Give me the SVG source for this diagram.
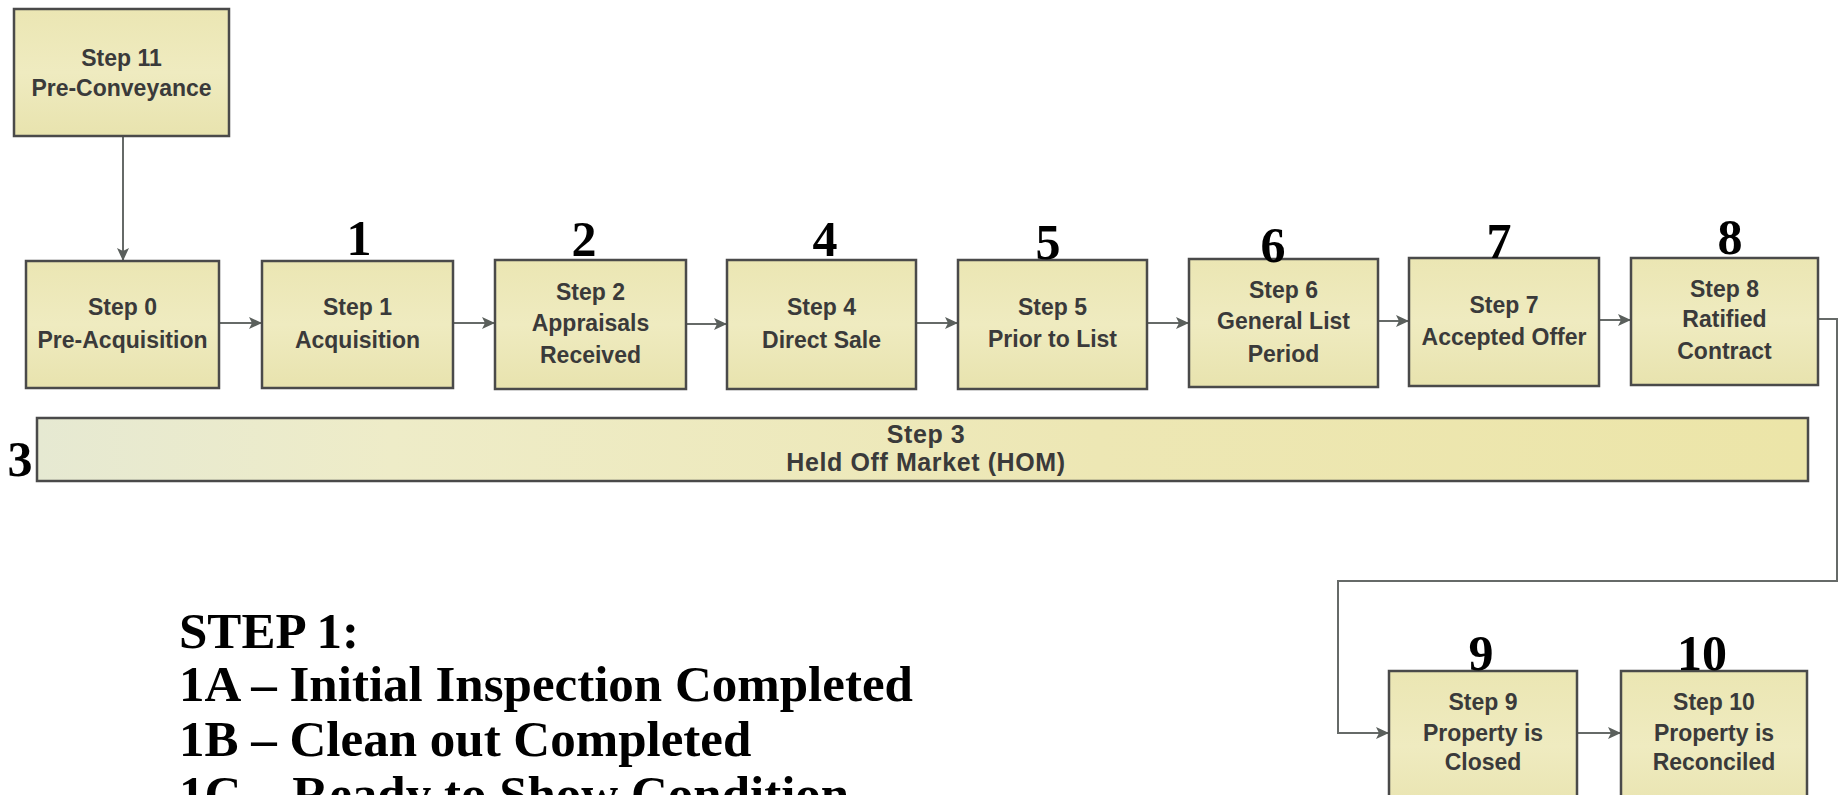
<svg xmlns="http://www.w3.org/2000/svg" width="1839" height="795" viewBox="0 0 1839 795">
<defs>
<linearGradient id="boxFill" x1="0" y1="0" x2="0" y2="1">
<stop offset="0" stop-color="#ebe6b3"/>
<stop offset="0.5" stop-color="#efebc0"/>
<stop offset="1" stop-color="#e8e3ae"/>
</linearGradient>
<linearGradient id="barFill" x1="0" y1="0" x2="1" y2="0">
<stop offset="0" stop-color="#e6e9d2"/>
<stop offset="0.2" stop-color="#eeecc8"/>
<stop offset="0.6" stop-color="#ede7b4"/>
<stop offset="1" stop-color="#ece5a8"/>
</linearGradient>
<marker id="arrow" markerUnits="userSpaceOnUse" markerWidth="14" markerHeight="12" refX="13" refY="6" orient="auto">
<path d="M0,0 L13,6 L0,12 L3,6 Z" fill="#5a5f5c"/>
</marker>
</defs>
<style>
.box{fill:url(#boxFill);stroke:#4a4a4a;stroke-width:2.5}
.bar{fill:url(#barFill);stroke:#4a4a4a;stroke-width:2.5}
.bt{font-family:"Liberation Sans",Arial,sans-serif;font-weight:bold;font-size:23px;fill:#3a3a3a;text-anchor:middle}
.b3{font-family:"Liberation Sans",Arial,sans-serif;font-weight:bold;font-size:25px;fill:#3a3a3a;text-anchor:middle;letter-spacing:0.6px}
.num{font-family:"Liberation Serif","Times New Roman",serif;font-weight:bold;font-size:50px;fill:#000;text-anchor:middle}
.note{font-family:"Liberation Serif","Times New Roman",serif;font-weight:bold;font-size:51px;fill:#000}
.conn{fill:none;stroke:#666a68;stroke-width:2}
</style>
<rect width="1839" height="795" fill="#ffffff"/>

<g id="connectors">
<path class="conn" d="M123,136 V261" marker-end="url(#arrow)"/>
<path class="conn" d="M219,323 H262" marker-end="url(#arrow)"/>
<path class="conn" d="M453,323 H495" marker-end="url(#arrow)"/>
<path class="conn" d="M686,324 H727" marker-end="url(#arrow)"/>
<path class="conn" d="M916,323 H958" marker-end="url(#arrow)"/>
<path class="conn" d="M1147,323 H1189" marker-end="url(#arrow)"/>
<path class="conn" d="M1378,321 H1409" marker-end="url(#arrow)"/>
<path class="conn" d="M1599,320 H1631" marker-end="url(#arrow)"/>
<path class="conn" d="M1818,319 H1837 V581 H1338 V733 H1389" marker-end="url(#arrow)"/>
<path class="conn" d="M1577,733 H1621" marker-end="url(#arrow)"/>
</g>

<g id="step11">
<rect class="box" x="14" y="9" width="215" height="127"/>
<text class="bt" x="121.5" y="66">Step 11</text>
<text class="bt" x="121.5" y="96">Pre-Conveyance</text>
</g>

<g id="step0">
<rect class="box" x="26" y="261" width="193" height="127"/>
<text class="bt" x="122.5" y="315">Step 0</text>
<text class="bt" x="122.5" y="348">Pre-Acquisition</text>
</g>

<g id="step1">
<rect class="box" x="262" y="261" width="191" height="127"/>
<text class="bt" x="357.5" y="315">Step 1</text>
<text class="bt" x="357.5" y="348">Acquisition</text>
<text class="num" x="359" y="255">1</text>
</g>

<g id="step2">
<rect class="box" x="495" y="260" width="191" height="129"/>
<text class="bt" x="590.5" y="300">Step 2</text>
<text class="bt" x="590.5" y="331">Appraisals</text>
<text class="bt" x="590.5" y="363">Received</text>
<text class="num" x="584" y="256">2</text>
</g>

<g id="step4">
<rect class="box" x="727" y="260" width="189" height="129"/>
<text class="bt" x="821.5" y="315">Step 4</text>
<text class="bt" x="821.5" y="348">Direct Sale</text>
<text class="num" x="825" y="256">4</text>
</g>

<g id="step5">
<rect class="box" x="958" y="260" width="189" height="129"/>
<text class="bt" x="1052.5" y="315">Step 5</text>
<text class="bt" x="1052.5" y="347">Prior to List</text>
<text class="num" x="1048" y="259">5</text>
</g>

<g id="step6">
<rect class="box" x="1189" y="259" width="189" height="128"/>
<text class="bt" x="1283.5" y="298">Step 6</text>
<text class="bt" x="1283.5" y="329">General List</text>
<text class="bt" x="1283.5" y="362">Period</text>
<text class="num" x="1273" y="262">6</text>
</g>

<g id="step7">
<rect class="box" x="1409" y="258" width="190" height="128"/>
<text class="bt" x="1504" y="313">Step 7</text>
<text class="bt" x="1504" y="345">Accepted Offer</text>
<text class="num" x="1499" y="258">7</text>
</g>

<g id="step8">
<rect class="box" x="1631" y="258" width="187" height="127"/>
<text class="bt" x="1724.5" y="297">Step 8</text>
<text class="bt" x="1724.5" y="327">Ratified</text>
<text class="bt" x="1724.5" y="359">Contract</text>
<text class="num" x="1730" y="254">8</text>
</g>

<g id="step3">
<rect class="bar" x="37" y="418" width="1771" height="63"/>
<text class="b3" x="926" y="443">Step 3</text>
<text class="b3" x="926" y="471">Held Off Market (HOM)</text>
<text class="num" x="20" y="476">3</text>
</g>

<g id="step9">
<rect class="box" x="1389" y="671" width="188" height="150"/>
<text class="bt" x="1483" y="710">Step 9</text>
<text class="bt" x="1483" y="741">Property is</text>
<text class="bt" x="1483" y="770">Closed</text>
<text class="num" x="1481" y="670">9</text>
</g>

<g id="step10">
<rect class="box" x="1621" y="671" width="186" height="150"/>
<text class="bt" x="1714" y="710">Step 10</text>
<text class="bt" x="1714" y="741">Property is</text>
<text class="bt" x="1714" y="770">Reconciled</text>
<text class="num" x="1702" y="670">10</text>
</g>

<g id="notes">
<text class="note" x="179" y="648">STEP 1:</text>
<text class="note" x="179" y="701">1A – Initial Inspection Completed</text>
<text class="note" x="179" y="756">1B – Clean out Completed</text>
<text class="note" x="179" y="811">1C – Ready to Show Condition</text>
</g>
</svg>
